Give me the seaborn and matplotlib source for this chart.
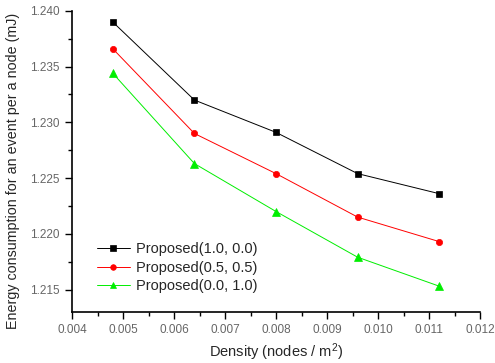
import matplotlib
matplotlib.use("Agg")
import matplotlib.pyplot as plt
import seaborn as sns
import pandas as pd
from matplotlib.ticker import MultipleLocator, FormatStrFormatter

density = [0.0048, 0.0064, 0.0080, 0.0096, 0.0112]
p10 = [1.2390, 1.2320, 1.2291, 1.2254, 1.2236]
p55 = [1.2366, 1.2290, 1.2254, 1.2215, 1.2193]
p01 = [1.2344, 1.2263, 1.2220, 1.2179, 1.2153]
labels = ["Proposed(1.0, 0.0)", "Proposed(0.5, 0.5)", "Proposed(0.0, 1.0)"]
colors = ["#000000", "#ff0000", "#00ee00"]
markers = ["s", "o", "^"]
msizes = [4.2, 4.5, 5.5]

sns.set_style("ticks")
plt.rcParams['font.family'] = ['Liberation Sans', 'DejaVu Sans']
plt.rcParams['mathtext.default'] = 'regular'

rows = []
for lab, vals in zip(labels, [p10, p55, p01]):
    for x, y in zip(density, vals):
        rows.append({"Density": x, "Energy": y, "Series": lab})
df = pd.DataFrame(rows)

fig = plt.figure(figsize=(4.95, 3.63), dpi=100)
ax = fig.add_axes([0.1455, 0.141, 0.8242, 0.829])

for lab, c, m, ms in zip(labels, colors, markers, msizes):
    sub = df[df["Series"] == lab]
    sns.lineplot(data=sub, x="Density", y="Energy", ax=ax, color=c, marker=m,
                 markersize=ms, markeredgecolor=c, markeredgewidth=0.5, linewidth=0.7,
                 label=lab)

ax.set_xlim(0.004, 0.012)
ax.set_ylim(1.213, 1.240)
ax.xaxis.set_major_locator(MultipleLocator(0.001))
ax.xaxis.set_minor_locator(MultipleLocator(0.0005))
ax.yaxis.set_major_locator(MultipleLocator(0.005))
ax.yaxis.set_minor_locator(MultipleLocator(0.0025))
ax.xaxis.set_major_formatter(FormatStrFormatter('%.3f'))
ax.yaxis.set_major_formatter(FormatStrFormatter('%.3f'))
ax.tick_params(axis='both', which='major', direction='out', length=5, width=1,
               labelsize=8.5, labelcolor='#666666', color='black', pad=4)
ax.tick_params(axis='both', which='minor', direction='out', length=3, width=1, color='black')
for s in ['top', 'right']:
    ax.spines[s].set_visible(False)
for s in ['left', 'bottom']:
    ax.spines[s].set_linewidth(1.2)
    ax.spines[s].set_color('black')

ax.set_xlabel("Density (nodes / m$^{2}$)", fontsize=10.5)
ax.set_ylabel("Energy consumption for an event per a node (mJ)", fontsize=10.3)
ax.xaxis.set_label_coords(0.5, -0.098)
ax.yaxis.set_label_coords(-0.128, 0.47)

leg = ax.legend(loc='lower left', bbox_to_anchor=(0.046, 0.043), frameon=False,
                fontsize=10.5, handlelength=2.3, handletextpad=0.4, labelspacing=0.3,
                markerscale=0.9, borderaxespad=0)

fig.savefig("out.png", dpi=100)
